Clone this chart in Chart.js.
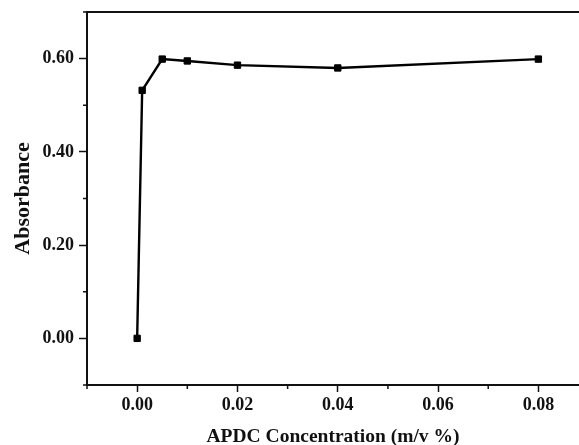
<!DOCTYPE html>
<html>
<head>
<meta charset="utf-8">
<script src="https://cdn.jsdelivr.net/npm/chart.js@4"></script>
<style>
  html, body { margin: 0; padding: 0; background: #fff; overflow: hidden; }
  #wrap { width: 579px; height: 445px; }
</style>
</head>
<body>
<div id="wrap"><canvas id="chart" width="579" height="445"></canvas></div>
<script>
// APDC concentration (m/v %) vs absorbance
const concentration = [0, 0.001, 0.005, 0.01, 0.02, 0.04, 0.08];
const absorbance = [0.0, 0.532, 0.599, 0.595, 0.586, 0.580, 0.599];

const xMinorTicks = [-0.01, 0.01, 0.03, 0.05, 0.07];
const yMinorTicks = [-0.1, 0.1, 0.3, 0.5, 0.7];

const serif = "'Liberation Serif', 'Times New Roman', serif";

const isMajor = (v, scale) => Math.round(v * scale) % 2 === 0;
const fmt = (v) => (Math.round(v * 100) / 100 + 0).toFixed(2);

// short minor ticks plus the top frame line
const frame = {
  id: 'frame',
  afterDraw(chart) {
    const { ctx, chartArea, scales } = chart;
    ctx.save();
    ctx.strokeStyle = '#111';
    ctx.lineWidth = 2;
    ctx.beginPath();
    ctx.moveTo(chartArea.left - 1, chartArea.top);
    ctx.lineTo(chart.width, chartArea.top);
    ctx.stroke();

    ctx.lineWidth = 1.5;
    ctx.beginPath();
    xMinorTicks.forEach((v) => {
      const px = scales.x.getPixelForValue(v);
      ctx.moveTo(px, chartArea.bottom);
      ctx.lineTo(px, chartArea.bottom + 4);
    });
    yMinorTicks.forEach((v) => {
      const py = scales.y.getPixelForValue(v);
      ctx.moveTo(chartArea.left, py);
      ctx.lineTo(chartArea.left - 4, py);
    });
    ctx.stroke();
    ctx.restore();
  },
};

const data = {
  datasets: [
    {
      label: 'Absorbance',
      data: concentration.map((c, i) => ({ x: c, y: absorbance[i] })),
      borderColor: '#000',
      backgroundColor: '#000',
      borderWidth: 2.4,
      tension: 0,
      pointStyle: 'rect',
      pointRadius: 4.5,
      pointBorderWidth: 1,
    },
  ],
};

const config = {
  type: 'line',
  data,
  options: {
    responsive: false,
    animation: false,
    layout: { autoPadding: false, padding: { top: 12, right: 0, bottom: 0, left: 0 } },
    plugins: {
      legend: { display: false },
      tooltip: { enabled: false },
    },
    scales: {
      x: {
        type: 'linear',
        min: -0.01,
        max: 0.0881,
        afterFit(scale) {
          scale.height = 60;
          scale.paddingLeft = 0;
          scale.paddingRight = 0;
        },
        border: { display: true, color: '#111', width: 2 },
        grid: {
          drawOnChartArea: false,
          drawTicks: true,
          tickLength: 7,
          tickWidth: 1.5,
          tickColor: (c) => (c.tick && isMajor(c.tick.value, 100) ? '#111' : 'rgba(0,0,0,0)'),
        },
        ticks: {
          stepSize: 0.01,
          includeBounds: false,
          autoSkip: false,
          maxRotation: 0,
          padding: 3,
          color: '#111',
          font: { family: serif, size: 18, weight: 'bold' },
          callback: (v) => (isMajor(v, 100) ? fmt(v) : ''),
        },
        title: {
          display: true,
          text: 'APDC Concentration (m/v %)',
          color: '#111',
          font: { family: serif, size: 19.5, weight: 'bold', lineHeight: 1 },
          padding: { top: 0, bottom: -2 },
        },
      },
      y: {
        min: -0.1,
        max: 0.7,
        afterFit(scale) {
          scale.width = 87;
          scale.paddingTop = 0;
          scale.paddingBottom = 0;
        },
        border: { display: true, color: '#111', width: 2 },
        grid: {
          drawOnChartArea: false,
          drawTicks: true,
          tickLength: 8,
          tickWidth: 1.5,
          tickColor: (c) => (c.tick && isMajor(c.tick.value, 10) ? '#111' : 'rgba(0,0,0,0)'),
        },
        ticks: {
          stepSize: 0.1,
          autoSkip: false,
          padding: 5,
          color: '#111',
          font: { family: serif, size: 18, weight: 'bold' },
          callback: (v) => (isMajor(v, 10) ? fmt(v) : ''),
        },
        title: {
          display: true,
          text: 'Absorbance',
          color: '#111',
          font: { family: serif, size: 22, weight: 'bold', lineHeight: 1 },
          padding: { top: 12, bottom: 0 },
        },
      },
    },
  },
  plugins: [frame],
};

new Chart(document.getElementById('chart').getContext('2d'), config);
</script>
</body>
</html>
